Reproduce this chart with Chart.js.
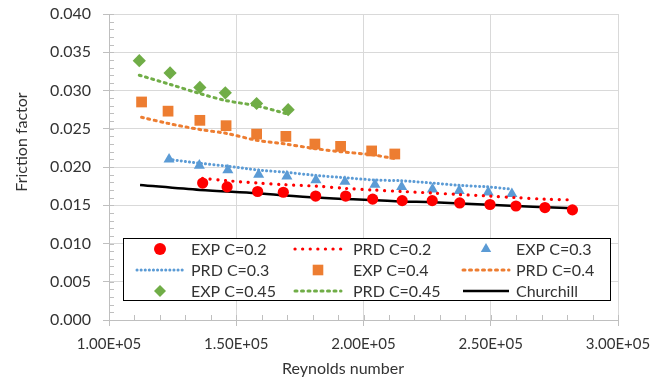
<!DOCTYPE html>
<html>
<head>
<meta charset="utf-8">
<script src="https://cdn.jsdelivr.net/npm/chart.js@4.4.0/dist/chart.umd.min.js"></script>
<style>
body{margin:0;background:#fff}
</style>
</head>
<body>
<canvas id="grafico" width="667" height="383"></canvas>
<script>
// C=0.2
const reExp02 = [136800, 146400, 158400, 168500, 181200, 193000, 203600, 215200, 227000, 237800, 249700, 259900, 271300, 282100]
const fExp02 = [0.0179, 0.0174, 0.0168, 0.0167, 0.0162, 0.0162, 0.0158, 0.0156, 0.0156, 0.0153, 0.0151, 0.0149, 0.0147, 0.0144]
const fPrd02 = [0.0185, 0.0182, 0.0179, 0.0177, 0.0175, 0.0172, 0.0170, 0.0168, 0.0166, 0.0164, 0.0162, 0.0160, 0.0158, 0.0157]
// C=0.3
const reExp03 = [123600, 135500, 146700, 158800, 169900, 181300, 192700, 204500, 215000, 227100, 237600, 249000, 258300]
const fExp03 = [0.0210, 0.0202, 0.0196, 0.0190, 0.0188, 0.0183, 0.0181, 0.0177, 0.0174, 0.0171, 0.0169, 0.0167, 0.0165]
const fPrd03 = [0.0210, 0.0205, 0.0201, 0.0196, 0.0193, 0.0189, 0.0186, 0.0183, 0.0182, 0.0179, 0.0176, 0.0174, 0.0171]
// C=0.4
const reExp04 = [112800, 123200, 135700, 146000, 158000, 169500, 180900, 191000, 203200, 212300]
const fExp04 = [0.0285, 0.0273, 0.0261, 0.0254, 0.0243, 0.0240, 0.0230, 0.0227, 0.0221, 0.0217]
const fPrd04 = [0.0265, 0.0257, 0.0249, 0.0244, 0.0235, 0.0230, 0.0224, 0.0220, 0.0216, 0.0211]
// C=0.45
const reExp045 = [111900, 124000, 135700, 145700, 158000, 170400]
const fExp045 = [0.0339, 0.0323, 0.0304, 0.0297, 0.0283, 0.0275]
const fPrd045 = [0.0320, 0.0308, 0.0296, 0.0287, 0.0280, 0.0269]
// Churchill
const reChurchill = [112200, 135700, 158000, 181600, 214300, 227400, 266500, 282400]
const fChurchill = [0.01765, 0.0170, 0.01656, 0.0160, 0.0155, 0.0154, 0.0148, 0.0146]

const xTicks = [100000, 150000, 200000, 250000, 300000]
const yTicks = [0, 0.005, 0.01, 0.015, 0.02, 0.025, 0.03, 0.035, 0.04]

const FONTE = 'Lato, "Open Sans", sans-serif'
const COR_TEXTO = '#333333'

function pontos(xs, ys){
    return xs.map((x, i) => ({x: x, y: ys[i]}))
}

function exp(label, xs, ys, cor, estilo, raio){
    return {label: label, data: pontos(xs, ys), showLine: false, pointStyle: estilo,
        pointRadius: raio, pointBackgroundColor: cor, pointBorderColor: cor, pointBorderWidth: 0,
        backgroundColor: cor, borderColor: cor}
}

function prd(label, xs, ys, cor, dash, largura, cap){
    return {label: label, data: pontos(xs, ys), showLine: true, pointRadius: 0,
        borderColor: cor, backgroundColor: cor, borderWidth: largura, borderDash: dash,
        borderCapStyle: cap, tension: 0.3}
}

function desenha_simbolo(ctx, estilo, cor, x, y, r){
    ctx.save()
    ctx.fillStyle = cor
    ctx.beginPath()
    if(estilo == 'circle'){
        ctx.arc(x, y, r, 0, Math.PI*2)
    } else if(estilo == 'triangle'){
        ctx.moveTo(x, y - r)
        ctx.lineTo(x + r*0.866, y + r/2)
        ctx.lineTo(x - r*0.866, y + r/2)
    } else if(estilo == 'rect'){
        let s = r*Math.SQRT1_2
        ctx.rect(x - s, y - s, 2*s, 2*s)
    } else if(estilo == 'rectRot'){
        ctx.moveTo(x, y - r)
        ctx.lineTo(x + r, y)
        ctx.lineTo(x, y + r)
        ctx.lineTo(x - r, y)
    }
    ctx.closePath()
    ctx.fill()
    ctx.restore()
}

// titulos, legenda e marcas menores
const extras = {
    id: 'extras',
    afterDraw(chart){
        const ctx = chart.ctx
        const sx = chart.scales.x, sy = chart.scales.y
        ctx.save()
        // marcas menores
        ctx.strokeStyle = '#bfbfbf'
        ctx.lineWidth = 1
        ctx.beginPath()
        for(let v = 0; v <= 0.0400001; v += 0.001){
            let py = Math.round(sy.getPixelForValue(v)) + 0.5
            ctx.moveTo(sx.left, py)
            ctx.lineTo(sx.left + 5, py)
        }
        for(let v = 100000; v <= 300000; v += 10000){
            let px = Math.round(sx.getPixelForValue(v)) + 0.5
            ctx.moveTo(px, sy.bottom)
            ctx.lineTo(px, sy.bottom - 5)
        }
        ctx.stroke()

        // titulos dos eixos
        ctx.fillStyle = COR_TEXTO
        ctx.font = '16px ' + FONTE
        ctx.textAlign = 'center'
        ctx.textBaseline = 'middle'
        ctx.fillText('Reynolds number', 343, 369)
        ctx.save()
        ctx.translate(22, 142)
        ctx.rotate(-Math.PI/2)
        ctx.fillText('Friction factor', 0, 0)
        ctx.restore()

        // legenda
        const bx = 123, by = 238, bw = 487, bh = 62
        ctx.fillStyle = '#ffffff'
        ctx.fillRect(bx, by, bw, bh)
        ctx.strokeStyle = '#000000'
        ctx.lineWidth = 1
        ctx.strokeRect(bx + 0.5, by + 0.5, bw, bh)
        const linhas = [249, 270, 291]
        const simX = [160, 318, 486]
        const txtX = [191, 353, 516]
        ctx.font = '16px ' + FONTE
        ctx.textAlign = 'left'
        chart.data.datasets.forEach((ds, i) => {
            let lin = Math.floor(i/3), col = i % 3
            let y = linhas[lin]
            if(ds.showLine){
                ctx.save()
                ctx.strokeStyle = ds.borderColor
                ctx.lineWidth = ds.borderWidth
                ctx.setLineDash(ds.borderDash || [])
                ctx.lineCap = ds.borderCapStyle || 'butt'
                ctx.beginPath()
                ctx.moveTo(simX[col] - 23, y)
                ctx.lineTo(simX[col] + 23, y)
                ctx.stroke()
                ctx.restore()
            } else {
                desenha_simbolo(ctx, ds.pointStyle, ds.pointBackgroundColor, simX[col], y, ds.pointStyle == 'rect' ? 7.5 : 6)
            }
            ctx.fillStyle = COR_TEXTO
            ctx.fillText(ds.label, txtX[col], y + 1)
        })
        ctx.restore()
    }
}

const ctx = document.getElementById('grafico').getContext('2d')
const grafico = new Chart(ctx, {
    type: 'scatter',
    data: {
        datasets: [
            exp('EXP C=0.2', reExp02, fExp02, '#ff0000', 'circle', 5.6),
            prd('PRD C=0.2', reExp02, fPrd02, '#ff0000', [0.1, 7.5], 3.2, 'round'),
            exp('EXP C=0.3', reExp03, fExp03, '#5b9bd5', 'triangle', 6.4),
            prd('PRD C=0.3', reExp03, fPrd03, '#5b9bd5', [0.1, 4], 3, 'round'),
            exp('EXP C=0.4', reExp04, fExp04, '#ed7d31', 'rect', 7.6),
            prd('PRD C=0.4', reExp04, fPrd04, '#ed7d31', [2, 4.5], 3, 'round'),
            exp('EXP C=0.45', reExp045, fExp045, '#70ad47', 'rectRot', 6.6),
            prd('PRD C=0.45', reExp045, fPrd045, '#70ad47', [2, 4.5], 3, 'round'),
            prd('Churchill', reChurchill, fChurchill, '#000000', [], 2.5, 'butt')
        ]
    },
    options: {
        responsive: false,
        animation: false,
        layout: {padding: {left: 0, right: 49, top: 14, bottom: 0}},
        plugins: {legend: {display: false}, tooltip: {enabled: false}},
        scales: {
            x: {
                type: 'linear', min: 100000, max: 300000,
                afterBuildTicks: (s) => { s.ticks = xTicks.map(v => ({value: v})) },
                afterFit: (s) => { s.height = 63 },
                grid: {color: '#d9d9d9', tickColor: '#bfbfbf', tickLength: 6},
                border: {color: '#bfbfbf'},
                ticks: {
                    color: COR_TEXTO, font: {family: FONTE, size: 15}, padding: 9, maxRotation: 0,
                    callback: function(v){
                        let s = Number(v).toExponential(2).toUpperCase()
                        return s.replace(/E\+(\d)$/, 'E+0$1')
                    }
                }
            },
            y: {
                type: 'linear', min: 0, max: 0.04,
                afterBuildTicks: (s) => { s.ticks = yTicks.map(v => ({value: v})) },
                afterFit: (s) => { s.width = 109 },
                grid: {color: '#d9d9d9', tickColor: '#bfbfbf', tickLength: 6},
                border: {color: '#bfbfbf'},
                ticks: {
                    color: COR_TEXTO, font: {family: FONTE, size: 16, lineHeight: 0.1}, padding: 12,
                    callback: v => Number(v).toFixed(3)
                }
            }
        }
    },
    plugins: [extras]
})
</script>
</body>
</html>
